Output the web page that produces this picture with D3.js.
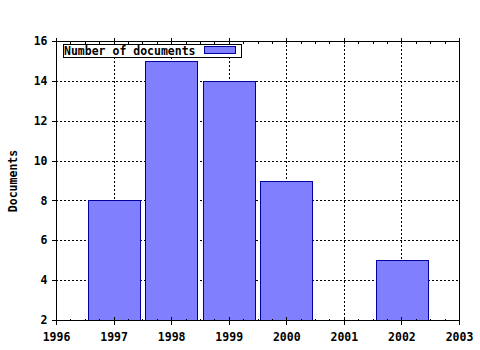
<!DOCTYPE html>
<html><head><meta charset="utf-8">
<script src="https://cdn.jsdelivr.net/npm/d3@7"></script>
<style>body{margin:0;background:#fff}svg{display:block}text{font-family:"DejaVu Sans Mono",monospace;font-weight:bold;font-size:11.5px}</style>
</head><body>
<script>
const years = [1997, 1998, 1999, 2000, 2002];
const documents = [8, 15, 14, 9, 5];
const xTicks = [1996, 1997, 1998, 1999, 2000, 2001, 2002, 2003];
const yTicks = [2, 4, 6, 8, 10, 12, 14, 16];
const seriesName = "Number of documents";
const yTitle = "Documents";

const W = 480, H = 350;
const L = 56, R = 459, T = 41, B = 320;
const svg = d3.select("body").append("svg").attr("width", W).attr("height", H);
const x = d3.scaleLinear().domain([1996, 2003]).range([L, R]);
const y = d3.scaleLinear().domain([2, 16]).range([B, T]);
const bw = (x(1997) - x(1996)) * 0.9;

// grid
const g = svg.append("g").attr("stroke", "#000").attr("stroke-dasharray", "2,2").attr("shape-rendering", "crispEdges");
g.selectAll("line.v").data(xTicks.slice(1, -1)).join("line")
  .attr("x1", d => Math.round(x(d)) + 0.5).attr("x2", d => Math.round(x(d)) + 0.5)
  .attr("y1", T).attr("y2", B);
g.selectAll("line.h").data(yTicks.slice(1, -1)).join("line")
  .attr("y1", d => Math.round(y(d)) + 0.5).attr("y2", d => Math.round(y(d)) + 0.5)
  .attr("x1", L).attr("x2", R);

// bars
svg.append("g").selectAll("rect").data(years).join("rect")
  .attr("x", d => Math.round(x(d) - bw / 2) + 0.5)
  .attr("width", Math.round(bw))
  .attr("y", (d, i) => Math.round(y(documents[i])) + 0.5)
  .attr("height", (d, i) => Math.round(y(2)) - Math.round(y(documents[i])))
  .attr("fill", "#8080ff").attr("stroke", "#0000a0").attr("shape-rendering", "crispEdges");

// axes
const minor = d3.range(1996, 2003.01, 0.25);
const ax = svg.append("g").attr("shape-rendering", "crispEdges");
ax.append("g").attr("transform", `translate(0,${B + 0.5})`)
  .call(d3.axisBottom(x).tickValues(xTicks).tickFormat(d3.format("d")).tickSize(4).tickPadding(8))
  .call(a => a.select(".domain").remove());
ax.append("g").attr("transform", `translate(0,${B + 0.5})`)
  .call(d3.axisTop(x).tickValues(xTicks).tickFormat("").tickSize(4))
  .call(a => a.select(".domain").remove());
ax.append("g").attr("transform", `translate(0,${B + 0.5})`)
  .call(d3.axisTop(x).tickValues(minor).tickFormat("").tickSize(2))
  .call(a => a.select(".domain").remove());
ax.append("g").attr("transform", `translate(0,${T + 0.5})`)
  .call(d3.axisTop(x).tickValues(xTicks).tickFormat("").tickSize(4))
  .call(a => a.select(".domain").remove());
ax.append("g").attr("transform", `translate(0,${T + 0.5})`)
  .call(d3.axisBottom(x).tickValues(minor).tickFormat("").tickSize(2))
  .call(a => a.select(".domain").remove());
ax.append("g").attr("transform", `translate(${L + 0.5},0)`)
  .call(d3.axisLeft(y).tickValues(yTicks).tickSize(5).tickPadding(4))
  .call(a => a.select(".domain").remove());
ax.selectAll("text").attr("fill", "#000").style("font-family", '"DejaVu Sans Mono",monospace').style("font-size", "11.5px").style("font-weight", "bold");
ax.selectAll("line").attr("stroke", "#000");
svg.append("rect").attr("x", L + 0.5).attr("y", T + 0.5).attr("width", R - L).attr("height", B - T)
  .attr("fill", "none").attr("stroke", "#000").attr("shape-rendering", "crispEdges");

// y title
svg.append("text").attr("transform", "translate(17,181) rotate(-90)").attr("text-anchor", "middle").text(yTitle);

// legend
const lg = svg.append("g");
lg.append("rect").attr("x", 63.5).attr("y", 44.5).attr("width", 178).attr("height", 13)
  .attr("fill", "#fff").attr("stroke", "#000").attr("shape-rendering", "crispEdges");
lg.append("text").attr("x", 64).attr("y", 55).text(seriesName);
lg.append("rect").attr("x", 204.5).attr("y", 46.5).attr("width", 31).attr("height", 7)
  .attr("fill", "#8080ff").attr("stroke", "#0000a0").attr("shape-rendering", "crispEdges");
</script>
</body></html>
